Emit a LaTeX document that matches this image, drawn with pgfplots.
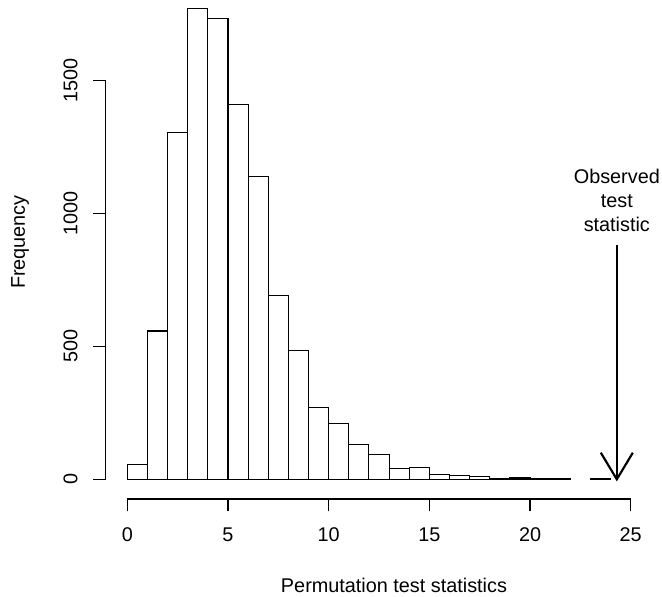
\documentclass[border=0pt]{standalone}
\usepackage{pgfplots}
\pgfplotsset{compat=1.18}
\usepackage{fontspec}
\setmainfont{Liberation Sans}

\begin{document}
\begin{tikzpicture}[font=\fontsize{11.9}{14.4}\selectfont]
\begin{axis}[
 name=ax,
 scale only axis, width=345.93pt, height=308.37pt,
 xmin=-1.073, xmax=27.56, ymin=-74.1, ymax=1860,
 axis line style={draw=none},
 clip=false,
 tick align=outside, tick pos=left,
 major tick length=7.5pt,
 tick style={black, line width=0.7pt},
 xtick={0,5,...,25}, ytick={0,500,1000,1500},
 scaled ticks=false,
 /pgf/number format/1000 sep={},
 /pgf/number format/assume math mode=true,
 tick label style={font=\fontsize{11.9}{14.4}\selectfont},
 yticklabel style={rotate=90, anchor=south},
 xticklabel shift=6.2pt, yticklabel shift=5.8pt,
 xlabel={Permutation test statistics}, ylabel={Frequency},
 every axis x label/.style={at={(axis description cs:0.5,-0.1673)}, anchor=center},
 every axis y label/.style={at={(axis description cs:-0.1486,0.5)}, rotate=90, anchor=center},
]
\addplot[ybar interval, draw=black, fill=white, line width=0.65pt] coordinates {
 (0,55) (1,558) (2,1304) (3,1772) (4,1733) (5,1409) (6,1138) (7,690) (8,486)
 (9,271) (10,211) (11,132) (12,94) (13,41) (14,45) (15,19) (16,13) (17,9)
 (18,3) (19,5) (20,2) (21,1) (22,0)
};
\addplot[ybar interval, draw=black, fill=white, line width=0.65pt] coordinates {
 (23,1) (24,0)
};
\draw[line width=0.7pt] (axis cs:0,-74.1) -- (axis cs:25,-74.1);
\draw[line width=0.7pt] (axis cs:-1.073,0) -- (axis cs:-1.073,1500);
\draw[line width=1.3pt] (axis cs:24.31,881.7) -- (axis cs:24.31,0);
\draw[line width=1.3pt] (axis cs:23.515,100) -- (axis cs:24.31,0) -- (axis cs:25.105,100);
\node[anchor=north, align=center, inner sep=0pt, font=\fontsize{11.9}{14.4}\selectfont]
  at (axis cs:24.31,1167.7) {Observed\\test\\statistic};
\coordinate (bbsw) at (axis cs:-6.322,-442.9);
\coordinate (bbne) at (axis cs:26.554,1803.7);
\end{axis}
\pgfresetboundingbox
\path[use as bounding box] (bbsw) rectangle (bbne);
\end{tikzpicture}
\end{document}
